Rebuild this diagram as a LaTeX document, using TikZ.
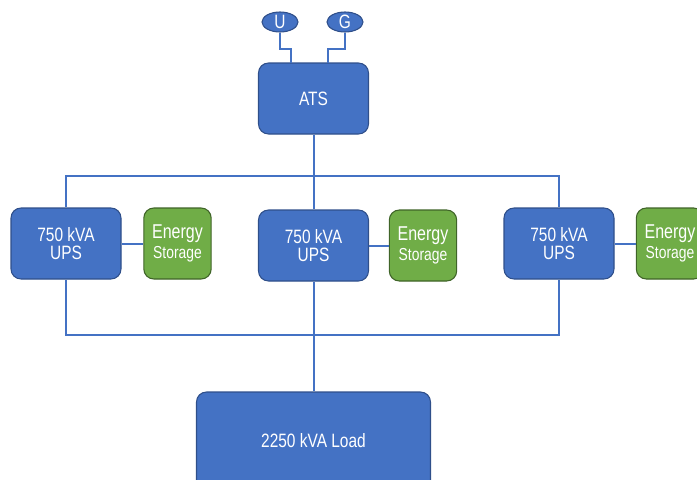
\documentclass[tikz,border=0pt]{standalone}
\usepackage{fontspec}
\setmainfont[FakeStretch=0.8]{Liberation Sans}
\usetikzlibrary{shapes.geometric,positioning}
\definecolor{upsblue}{HTML}{4472C4}
\definecolor{upsedge}{HTML}{2F4F8A}
\definecolor{storegreen}{HTML}{70AD47}
\definecolor{storeedge}{HTML}{3F6428}

\begin{document}
\begin{tikzpicture}[
x=0.75pt, y=-0.75pt,
unit/.style={draw=upsedge, fill=upsblue, rounded corners=7.5pt, line width=0.8pt, text=white, align=center, inner sep=0pt, minimum width=82.5pt, minimum height=53.25pt, font=\fontsize{14.5}{13.8}\selectfont},
store/.style={draw=storeedge, fill=storegreen, rounded corners=7.5pt, line width=0.8pt, text=white, align=center, inner sep=0pt, minimum width=50.5pt, minimum height=53.25pt, font=\fontsize{15}{15}\selectfont},
src/.style={ellipse, draw=upsedge, fill=upsblue, line width=0.8pt, text=white, inner sep=0pt, minimum width=27pt, minimum height=15pt, font=\fontsize{14.5}{15}\selectfont},
wire/.style={draw=upsblue, line width=1.5pt}
]
\clip (0,0) rectangle (697,479);
\node[src] (u) at (280,22) {U};
\node[src] (g) at (345,22) {G};
\node[unit] (ats) at (313.5,98.5) {ATS};
\node[unit] (ups1) at (66,243.5) {750 kVA\\UPS};
\node[unit] (ups2) at (313.5,245.5) {750 kVA\\UPS};
\node[unit] (ups3) at (559,243.5) {750 kVA\\UPS};
\node[store] (es1) at (177.5,243.5) {Energy\\{\fontsize{13}{15}\selectfont Storage}};
\node[store] (es2) at (423,245.5) {Energy\\{\fontsize{13}{15}\selectfont Storage}};
\node[store] (es3) at (670,243.5) {Energy\\{\fontsize{13}{15}\selectfont Storage}};
\node[unit, minimum width=175.5pt, minimum height=73.5pt] (load) at (313.5,441) {2250 kVA Load};
\coordinate (ua) at (291,63);
\coordinate (ga) at (328,63);
\coordinate (bt) at (313.5,176);
\coordinate (bb) at (313.5,335);
\draw[wire] (u.south) -- ++(0,16) -| (ua);
\draw[wire] (g.south) -- ++(0,16) -| (ga);
\draw[wire] (ats) -- (bt);
\draw[wire] (ups1.north) |- (bt) -| (ups3.north);
\draw[wire] (bt) -- (ups2.north);
\draw[wire] (ups1) -- (es1);
\draw[wire] (ups2) -- (es2);
\draw[wire] (ups3) -- (es3);
\draw[wire] (ups1.south) |- (bb) -| (ups3.south);
\draw[wire] (ups2) -- (load);
\end{tikzpicture}
\end{document}
